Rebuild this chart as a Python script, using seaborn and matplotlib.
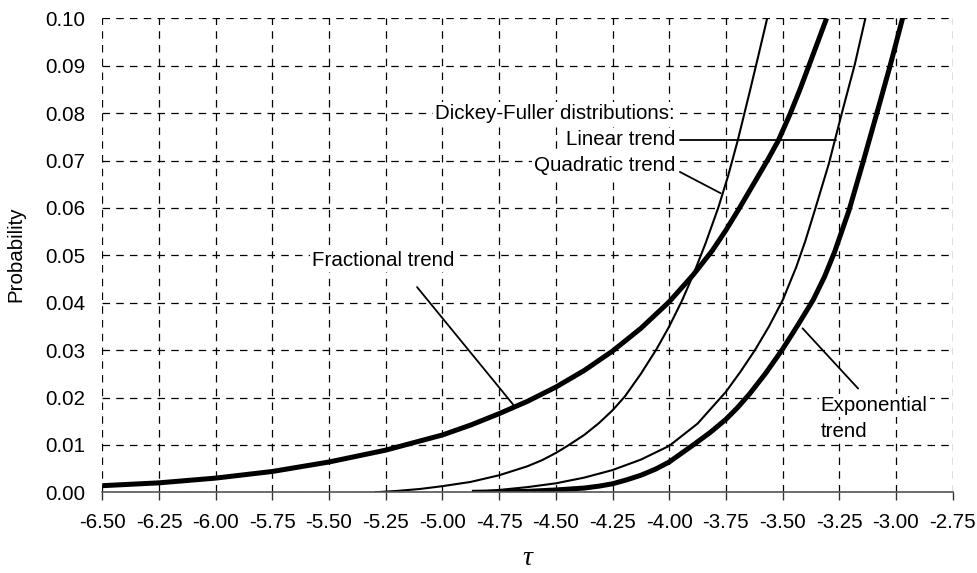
import seaborn as sns
import matplotlib.pyplot as plt
import matplotlib.ticker as mticker
import numpy as np
import pandas as pd

# values (tau, probability)
frac_tau = [-6.50, -6.25, -6.00, -5.75, -5.50, -5.25, -5.00, -4.875, -4.75, -4.625,
            -4.50, -4.375, -4.25, -4.125, -4.00, -3.894, -3.81, -3.75, -3.69, -3.625,
            -3.565, -3.519, -3.468, -3.425, -3.384, -3.345, -3.306]
frac_p = [0.0014, 0.0020, 0.0030, 0.0044, 0.0064, 0.0089, 0.0121, 0.0142, 0.0166, 0.0192,
          0.0222, 0.0257, 0.0298, 0.0346, 0.0402, 0.0459, 0.0510, 0.0553, 0.0600, 0.0653,
          0.0702, 0.0742, 0.0797, 0.0848, 0.0900, 0.0950, 0.1000]

quad_tau = [-5.30, -5.20, -5.10, -5.00, -4.875, -4.75, -4.625, -4.56, -4.50, -4.445,
            -4.375, -4.31, -4.25, -4.196, -4.125, -4.056, -4.00, -3.945, -3.894, -3.84,
            -3.784, -3.74, -3.698, -3.645, -3.605, -3.568]
quad_p = [0.0000, 0.0003, 0.0007, 0.0013, 0.0022, 0.0036, 0.0055, 0.0068, 0.0083, 0.0099,
          0.0121, 0.0146, 0.0173, 0.0202, 0.0250, 0.0302, 0.0350, 0.0403, 0.0459, 0.0525,
          0.0600, 0.0668, 0.0742, 0.0845, 0.0925, 0.1000]

lin_tau = [-4.87, -4.75, -4.625, -4.50, -4.375, -4.25, -4.125, -4.00, -3.875, -3.75,
           -3.685, -3.622, -3.56, -3.50, -3.44, -3.40, -3.358, -3.295, -3.270, -3.236,
           -3.182, -3.135]
lin_p = [0.0000, 0.0005, 0.0011, 0.0019, 0.0031, 0.0047, 0.0069, 0.0098, 0.0145, 0.0212,
         0.0255, 0.0300, 0.0350, 0.0405, 0.0475, 0.0530, 0.0595, 0.0695, 0.0742, 0.0805,
         0.0902, 0.1000]

exp_tau = [-4.87, -4.75, -4.625, -4.50, -4.375, -4.31, -4.25, -4.19, -4.125, -4.06,
           -4.00, -3.894, -3.82, -3.75, -3.70, -3.645, -3.575, -3.50, -3.43, -3.365,
           -3.315, -3.27, -3.207, -3.145, -3.086, -3.027, -2.971]
exp_p = [0.0000, 0.0001, 0.0002, 0.0005, 0.0009, 0.0013, 0.0018, 0.0026, 0.0036, 0.0049,
         0.0064, 0.0100, 0.0126, 0.0154, 0.0178, 0.0208, 0.0251, 0.0302, 0.0355, 0.0406,
         0.0455, 0.0508, 0.0595, 0.0697, 0.0797, 0.0898, 0.1000]

x_ticks = np.arange(-6.50, -2.74, 0.25)
y_ticks = np.arange(0.0, 0.1001, 0.01)

sns.set_theme(style="white")
plt.rcParams['font.family'] = ['Liberation Sans', 'DejaVu Sans']
plt.rcParams['axes.unicode_minus'] = False
plt.rcParams['text.color'] = 'black'
plt.rcParams['axes.labelcolor'] = 'black'
plt.rcParams['xtick.color'] = 'black'
plt.rcParams['ytick.color'] = 'black'

fig = plt.figure(figsize=(9.77, 5.73), dpi=100)
ax = fig.add_axes([0.1047, 0.1408, 0.8704, 0.8272])

curves = [(frac_tau, frac_p, 3.6), (quad_tau, quad_p, 1.5),
          (lin_tau, lin_p, 1.5), (exp_tau, exp_p, 3.6)]
for tau, p, lw in curves:
    d = pd.DataFrame({'tau': tau, 'p': p})
    sns.lineplot(data=d, x='tau', y='p', ax=ax, color='black', linewidth=lw,
                 estimator=None, sort=False, solid_capstyle='butt',
                 solid_joinstyle='round', zorder=3)

ax.set_xlim(-6.50, -2.75)
ax.set_ylim(0.0, 0.10)
ax.set_xticks(x_ticks)
ax.set_yticks(y_ticks)
ax.xaxis.set_major_formatter(mticker.FormatStrFormatter('%.2f'))
ax.yaxis.set_major_formatter(mticker.FormatStrFormatter('%.2f'))
ax.grid(True, color='black', linewidth=0.9, linestyle=(0, (6, 5)))
ax.set_axisbelow(True)

for s in ['left', 'top', 'right']:
    ax.spines[s].set_visible(False)
ax.spines['bottom'].set_color('#555555')
ax.spines['bottom'].set_linewidth(1.2)
ax.spines['bottom'].set_zorder(4)

ax.tick_params(axis='x', direction='out', length=6, width=1, color='#333333',
               labelsize=14.8, labelcolor='black', pad=9, bottom=True)
ax.tick_params(axis='y', length=0, labelsize=14.8, labelcolor='black', pad=12)

ax.set_ylabel('Probability', fontsize=14.8)
ax.yaxis.label.set_va('center')
ax.yaxis.set_label_coords(-0.1015, 0.503)
ax.set_xlabel('τ', fontsize=20, family=['Liberation Serif', 'DejaVu Serif'],
              style='italic')
ax.xaxis.label.set_va('baseline')
ax.xaxis.set_label_coords(0.5, -0.154)

fs = 14.8
bb = dict(facecolor='white', edgecolor='none', pad=1.5)
tk = dict(fontsize=fs, va='center', bbox=bb, zorder=2)
ax.text(-5.262, 0.049, 'Fractional trend', ha='center', **tk)
ax.text(-3.974, 0.0800, 'Dickey-Fuller distributions:', ha='right', **tk)
ax.text(-3.974, 0.0745, 'Linear trend', ha='right', **tk)
ax.text(-3.974, 0.0690, 'Quadratic trend', ha='right', **tk)
ax.text(-3.332, 0.0184, 'Exponential', ha='left', **tk)
ax.text(-3.332, 0.0128, 'trend', ha='left', **tk)

# leader lines
lk = dict(color='black', linewidth=1.3, zorder=3)
ax.plot([-3.953, -3.265], [0.0743, 0.0743], **lk)
ax.plot([-3.953, -3.773], [0.0676, 0.0631], **lk)
ax.plot([-5.112, -4.688], [0.0433, 0.0185], **lk)
ax.plot([-3.167, -3.412], [0.0219, 0.0346], **lk)

fig.savefig('out.png', dpi=100)
